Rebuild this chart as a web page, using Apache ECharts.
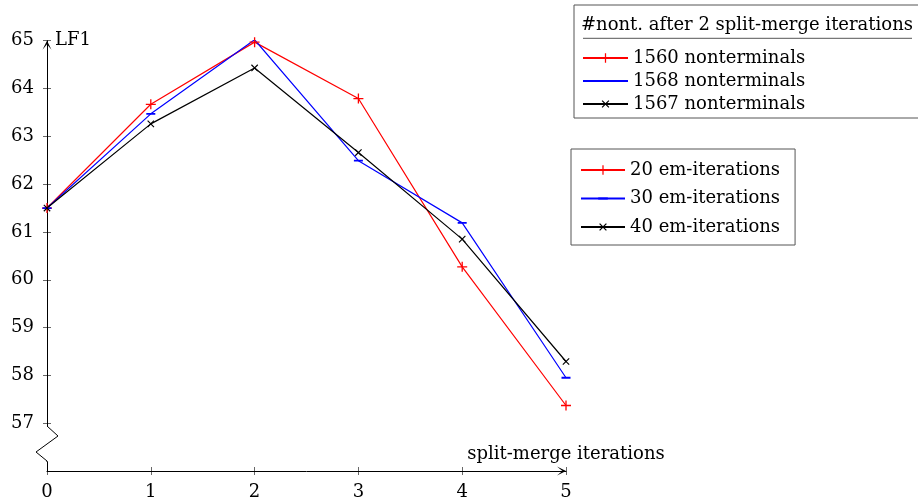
<!DOCTYPE html>
<html>
<head>
<meta charset="utf-8">
<script src="https://cdn.jsdelivr.net/npm/echarts@6.0.0/dist/echarts.min.js"></script>
<style>
  html, body { margin: 0; padding: 0; background: #fff; }
  #chart { width: 918px; height: 504px; }
</style>
</head>
<body>
<div id="chart"></div>
<script>
// data
const iterations = [0, 1, 2, 3, 4, 5];
const em20 = [61.5, 63.67, 64.97, 63.79, 60.27, 57.37];
const em30 = [61.5, 63.47, 65.02, 62.49, 61.19, 57.95];
const em40 = [61.5, 63.26, 64.43, 62.66, 60.85, 58.29];
const emNames = ['20 em-iterations', '30 em-iterations', '40 em-iterations'];
const ntNames = ['1560 nonterminals', '1568 nonterminals', '1567 nonterminals'];
const yTicks = [57, 58, 59, 60, 61, 62, 63, 64, 65];

const FONT = 'DejaVu Serif';
const PLUS = 'path://M0,4.35H10V5.65H0Z M4.35,0H5.65V10H4.35Z';
// horizontal bar, with two specks in the corners so the box stays square
const DASH = 'path://M0,4H10V6H0Z M0,0L0.01,0L0,0.01Z M10,10L9.99,10L10,9.99Z';
const ARROW = 'path://M0,10 L5,0 L10,10 L5,4 Z';

const styles = [
  { color: '#ff0000', symbol: PLUS, symbolSize: 10, symbolRotate: 0 },
  { color: '#0000ff', symbol: DASH, symbolSize: 9, symbolRotate: 0 },
  { color: '#000000', symbol: PLUS, symbolSize: 9, symbolRotate: 45 }
];
const values = [em20, em30, em40];

const makeSeries = (name, i, data) => ({
  name,
  type: 'line',
  data,
  xAxisIndex: 0,
  yAxisIndex: 0,
  symbol: styles[i].symbol,
  symbolSize: styles[i].symbolSize,
  symbolRotate: styles[i].symbolRotate,
  showAllSymbol: true,
  color: styles[i].color,
  itemStyle: { color: styles[i].color, opacity: 1 },
  lineStyle: { color: styles[i].color, width: 1.2 },
  emphasis: { disabled: true },
  animation: false
});

const series = [];
emNames.forEach((n, i) => {
  series.push(makeSeries(n, i, iterations.map((x, k) => [x, values[i][k]])));
});
ntNames.forEach((n, i) => series.push(makeSeries(n, i, [])));

const axisColor = '#000';
const labelStyle = { color: '#000', fontFamily: FONT, fontSize: 18 };

const chart = echarts.init(document.getElementById('chart'), null, { renderer: 'canvas' });
chart.setOption({
  backgroundColor: '#fff',
  animation: false,
  title: {
    text: '#nont. after 2 split-merge iterations',
    left: 581,
    top: 16,
    padding: 0,
    textStyle: { color: '#000', fontFamily: FONT, fontSize: 18, fontWeight: 'normal' }
  },
  grid: { left: 47, right: 352, top: 40.7, bottom: 33 },
  xAxis: [
    {
      type: 'value',
      position: 'bottom',
      min: 0, max: 5, interval: 1,
      name: 'split-merge iterations',
      nameLocation: 'end',
      nameGap: 0,
      nameTextStyle: Object.assign({ align: 'center', verticalAlign: 'bottom', padding: [0, 0, 8, 0] }, labelStyle),
      axisLine: { show: true, lineStyle: { color: axisColor, width: 1 }, symbol: ['none', ARROW], symbolSize: [9, 10], symbolOffset: [0, -4.5] },
      axisTick: { show: true, inside: false, length: 4, lineStyle: { color: axisColor, width: 0.6 } },
      axisLabel: Object.assign({ margin: 12 }, labelStyle),
      splitLine: { show: false }
    },
    {
      type: 'value',
      position: 'bottom',
      min: 0, max: 5, interval: 1,
      axisLine: { show: false },
      axisTick: { show: true, inside: true, length: 4, lineStyle: { color: axisColor, width: 0.6 } },
      axisLabel: { show: false },
      splitLine: { show: false }
    }
  ],
  yAxis: [
    {
      type: 'value',
      position: 'left',
      min: 56, max: 65, interval: 1,
      name: 'LF1',
      nameLocation: 'end',
      nameGap: 0,
      nameTextStyle: Object.assign({ align: 'left', verticalAlign: 'middle', padding: [8, 0, 0, 8] }, labelStyle),
      axisLine: { show: true, lineStyle: { color: axisColor, width: 1 }, symbol: ['none', ARROW], symbolSize: [9, 10], symbolOffset: [0, -4.5] },
      axisTick: { show: true, inside: false, length: 4, customValues: yTicks, lineStyle: { color: axisColor, width: 0.6 } },
      axisLabel: Object.assign({ margin: 13, customValues: yTicks }, labelStyle),
      splitLine: { show: false }
    },
    {
      type: 'value',
      position: 'left',
      min: 56, max: 65, interval: 1,
      axisLine: { show: false },
      axisTick: { show: true, inside: true, length: 4, customValues: yTicks, lineStyle: { color: axisColor, width: 0.6 } },
      axisLabel: { show: false },
      splitLine: { show: false }
    }
  ],
  legend: [
    {
      data: ntNames,
      orient: 'vertical',
      left: 574,
      top: 5,
      padding: [44, 140, 5, 8],
      itemGap: 5,
      itemWidth: 45,
      itemHeight: 12,
      borderColor: '#555',
      borderWidth: 1,
      selectedMode: false,
      textStyle: labelStyle
    },
    {
      data: emNames,
      orient: 'vertical',
      left: 571,
      top: 149,
      padding: [12, 15, 9, 9],
      itemGap: 10.5,
      itemWidth: 44,
      itemHeight: 12,
      borderColor: '#555',
      borderWidth: 1,
      selectedMode: false,
      textStyle: labelStyle
    }
  ],
  graphic: [
    {
      type: 'line',
      shape: { x1: 583, y1: 38.3, x2: 912, y2: 38.3 },
      style: { stroke: '#555', lineWidth: 1 },
      z: 100
    },
    {
      type: 'rect',
      shape: { x: 43, y: 426.5, width: 8, height: 35 },
      style: { fill: '#fff' },
      z: 100
    },
    {
      type: 'polyline',
      shape: { points: [[47, 426], [58, 436], [36, 452], [47, 461], [47, 462]] },
      style: { stroke: axisColor, fill: null, lineWidth: 1 },
      z: 101
    }
  ],
  series
});
</script>
</body>
</html>
